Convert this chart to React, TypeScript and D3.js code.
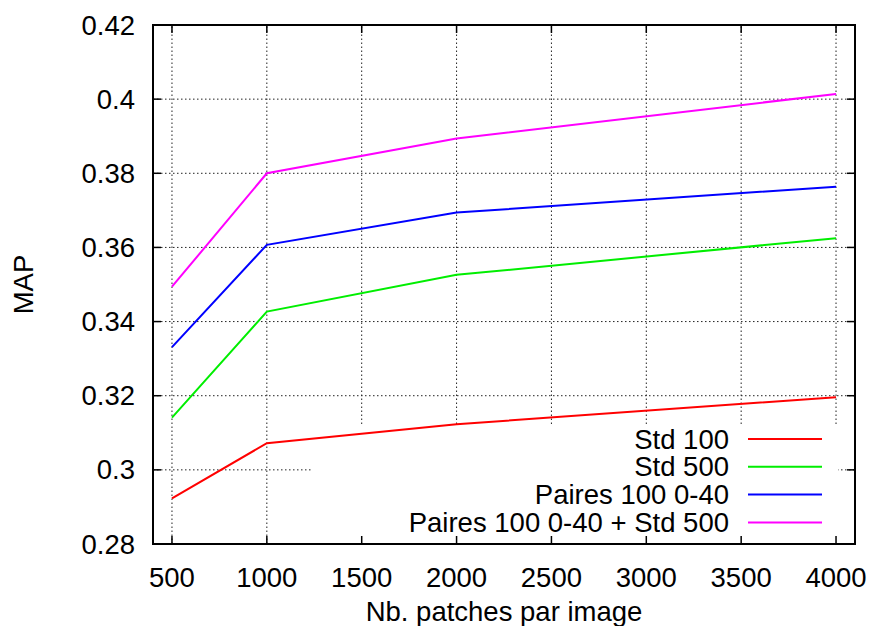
import React from "react";
import * as d3 from "d3";

const xValues = [500, 1000, 2000, 4000];
const std100 = [0.2923, 0.3072, 0.3123, 0.3196];
const std500 = [0.3141, 0.3427, 0.3526, 0.3625];
const paires = [0.3331, 0.3607, 0.3694, 0.3764];
const pairesStd = [0.3494, 0.38, 0.3894, 0.4014];
const seriesNames = ["Std 100", "Std 500", "Paires 100 0-40", "Paires 100 0-40 + Std 500"];
const seriesColors = ["#ff0000", "#00ee00", "#0000ff", "#ff00ff"];
const xTicks = [500, 1000, 1500, 2000, 2500, 3000, 3500, 4000];
const yTicks = [0.28, 0.3, 0.32, 0.34, 0.36, 0.38, 0.4, 0.42];

const W = 873;
const H = 626;
const L = 153, R = 855, T = 25, B = 544;
const FONT = "'Liberation Sans', Arial, sans-serif";
const FS = 27.5;

export default function App() {
  const x = d3.scaleLinear().domain([400, 4100]).range([L, R]);
  const y = d3.scaleLinear().domain([0.28, 0.42]).range([B, T]);
  const all = [std100, std500, paires, pairesStd];
  const line = d3
    .line<[number, number]>()
    .x((d) => x(d[0]))
    .y((d) => y(d[1]));

  const key = { x0: 313, x1: 838, y0: 425, y1: B - 1 };
  const rowY = (i: number) => 439 + i * 27.8;

  return (
    <svg
      width={W}
      height={H}
      style={{ position: "absolute", left: 0, top: 0, background: "#fff" }}
      fontFamily={FONT}
    >
      <rect x={0} y={0} width={W} height={H} fill="#fff" />
      {/* grid */}
      <g stroke="#222" strokeWidth={1} strokeDasharray="1.5,2.5">
        {xTicks.map((t) => (
          <line key={"gx" + t} x1={x(t)} x2={x(t)} y1={B} y2={T} />
        ))}
        {yTicks.slice(1, -1).map((t) => (
          <line key={"gy" + t} x1={L} x2={R} y1={y(t)} y2={y(t)} />
        ))}
      </g>
      {/* opaque key box */}
      <rect x={key.x0} y={key.y0} width={key.x1 - key.x0} height={key.y1 - key.y0} fill="#fff" />
      {/* ticks */}
      <g stroke="#000" strokeWidth={1.5}>
        {xTicks.map((t) => (
          <g key={"tx" + t}>
            <line x1={x(t)} x2={x(t)} y1={B} y2={B - 8} />
            <line x1={x(t)} x2={x(t)} y1={T} y2={T + 8} />
          </g>
        ))}
        {yTicks.map((t) => (
          <g key={"ty" + t}>
            <line x1={L} x2={L + 8} y1={y(t)} y2={y(t)} />
            <line x1={R} x2={R - 8} y1={y(t)} y2={y(t)} />
          </g>
        ))}
      </g>
      {/* data lines */}
      {all.map((vals, i) => (
        <path
          key={"s" + i}
          d={line(xValues.map((xv, j) => [xv, vals[j]] as [number, number])) || ""}
          fill="none"
          stroke={seriesColors[i]}
          strokeWidth={2}
        />
      ))}
      {/* border */}
      <rect x={L} y={T} width={R - L} height={B - T} fill="none" stroke="#000" strokeWidth={2} />
      {/* tick labels */}
      <g fontSize={FS} fill="#000">
        {yTicks.map((t) => (
          <text key={"ly" + t} x={L - 18} y={y(t)} textAnchor="end" dominantBaseline="central">
            {d3.format("")(+t.toFixed(2))}
          </text>
        ))}
        {xTicks.map((t) => (
          <text key={"lx" + t} x={x(t)} y={B + 43} textAnchor="middle">
            {t}
          </text>
        ))}
        <text x={(L + R) / 2} y={621} textAnchor="middle">
          Nb. patches par image
        </text>
        <text
          transform={`translate(33, ${(T + B) / 2}) rotate(-90)`}
          textAnchor="middle"
        >
          MAP
        </text>
      </g>
      {/* legend */}
      <g fontSize={FS}>
        {seriesNames.map((n, i) => (
          <g key={"k" + i}>
            <text x={729} y={rowY(i)} textAnchor="end" dominantBaseline="central">
              {n}
            </text>
            <line x1={748} x2={822} y1={rowY(i)} y2={rowY(i)} stroke={seriesColors[i]} strokeWidth={2} />
          </g>
        ))}
      </g>
    </svg>
  );
}
